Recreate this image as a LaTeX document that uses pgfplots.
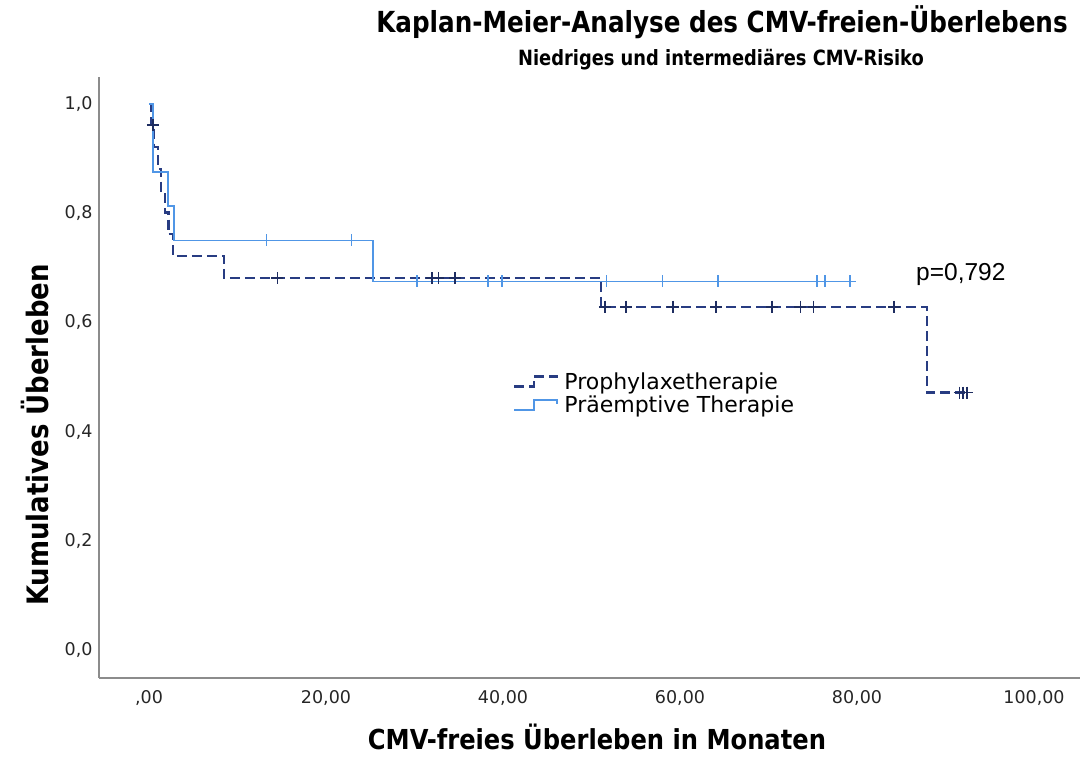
\documentclass[border=0pt]{standalone}
\usepackage{fontspec}
\setmainfont{DejaVu Sans}
\newfontfamily\condfont[FakeStretch=0.85]{DejaVu Sans Bold}
\newfontfamily\labelfont[FakeStretch=0.88]{DejaVu Sans Bold}
\newfontfamily\arialfont{Liberation Sans}
\usepackage{pgfplots}
\pgfplotsset{compat=1.18}

\definecolor{prophy}{RGB}{40,60,130}
\definecolor{praeemp}{RGB}{80,150,230}
\definecolor{axisgray}{RGB}{140,140,140}

% Kaplan-Meier steps: (time, survival) with the value held until the next time
\pgfplotstableread{
t s
0 1.0
0.2 0.9615
0.6 0.9215
1.0 0.8814
1.4 0.8413
1.8 0.8013
2.2 0.7612
2.7 0.7212
8.5 0.6811
51.1 0.6287
87.9 0.4715
92.4 0.4715
}\prophysteps
\pgfplotstableread{
t s
0.45 0.9615
14.5 0.6811
32.0 0.6811
32.7 0.6811
34.6 0.6811
51.5 0.6287
53.9 0.6287
59.2 0.6287
64.1 0.6287
70.4 0.6287
73.6 0.6287
75.1 0.6287
84.2 0.6287
91.6 0.4715
92.0 0.4715
92.4 0.4715
}\prophycens
\pgfplotstableread{
t s
0 1.0
0.45 0.875
2.15 0.8125
2.8 0.75
25.3 0.675
79.8 0.675
}\praesteps
\pgfplotstableread{
t s
13.3 0.75
22.9 0.75
30.3 0.675
38.3 0.675
39.9 0.675
51.7 0.675
58.0 0.675
64.3 0.675
75.5 0.675
76.4 0.675
79.2 0.675
}\praecens

\begin{document}
\begin{tikzpicture}[x=1pt,y=1pt]
\useasboundingbox (0,0) rectangle (1080,756);
\begin{axis}[
  at={(99pt,78pt)}, anchor=south west,
  scale only axis, width=981pt, height=601.3pt,
  xmin=-5.65, xmax=105.2, ymin=-0.0513, ymax=1.05,
  axis x line*=bottom, axis y line*=left,
  axis line style={draw=axisgray, line width=1.6pt, -},
  major tick length=0pt,
  xtick={0,20,40,60,80,100},
  xticklabels={{,00},{20,00},{40,00},{60,00},{80,00},{100,00}},
  ytick={0,0.2,0.4,0.6,0.8,1.0},
  yticklabels={{0,0},{0,2},{0,4},{0,6},{0,8},{1,0}},
  tick label style={font=\fontsize{17.5}{20}\selectfont, text=black!85},
  xticklabel style={yshift=-9pt},
  yticklabel style={xshift=-3pt},
  legend style={at={(0.422,0.512)}, anchor=north west, draw=none, fill=none,
    inner sep=0pt, font=\fontsize{22}{25}\selectfont, row sep=1pt,
    nodes={inner sep=2pt}},
  legend cell align=left,
  legend image code/.code={
    \draw[#1] (0pt,-5pt) -- (20pt,-5pt) -- (20pt,5pt) -- (43pt,5pt) -- (43pt,1pt);
  },
]
\addplot[const plot, prophy, line width=2.2pt, dash pattern=on 10pt off 5pt, mark=none]
  table[x=t,y=s] {\prophysteps};
\addlegendentry{\hspace{4pt}Prophylaxetherapie}
\addplot[const plot, praeemp, line width=1.8pt, mark=none]
  table[x=t,y=s] {\praesteps};
\addlegendentry{\hspace{4pt}Präemptive Therapie}
\addplot[forget plot, only marks, mark=+, mark size=6pt, prophy!75!black,
  mark options={line width=1.6pt}] table[x=t,y=s] {\prophycens};
\addplot[forget plot, only marks, mark=+, mark size=6pt, praeemp,
  mark options={line width=1.4pt}] table[x=t,y=s] {\praecens};
\end{axis}
\node[font=\condfont\fontsize{29}{34}\selectfont] at (722,734) {Kaplan-Meier-Analyse des CMV-freien-Überlebens};
\node[font=\condfont\fontsize{21}{24}\selectfont] at (721,696) {Niedriges und intermediäres CMV-Risiko};
\node[font=\labelfont\fontsize{27.5}{32}\selectfont] at (597,19) {CMV-freies Überleben in Monaten};
\node[font=\labelfont\fontsize{29.5}{34}\selectfont, rotate=90] at (35,321) {Kumulatives Überleben};
\node[font=\arialfont\fontsize{24.5}{28}\selectfont, anchor=base west, inner sep=0pt] at (916,475) {p=0,792};
\end{tikzpicture}
\end{document}
